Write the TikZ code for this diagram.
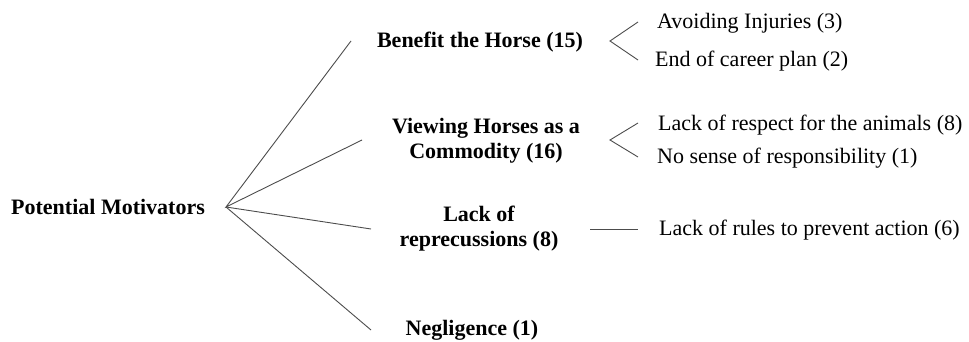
\documentclass[tikz,border=0pt]{standalone}
\usepackage{fontspec}
\setmainfont{Liberation Serif}
\begin{document}
\begin{tikzpicture}[x=1pt,y=-1pt,
  every node/.style={inner sep=0pt, font=\fontsize{22}{25}\selectfont},
  main/.style={font=\fontsize{22}{25}\selectfont\bfseries, align=center},
  leaf/.style={anchor=west},
  conn/.style={draw=black!70, line width=0.9pt}]
\useasboundingbox (0,0) rectangle (969,342);
\node[main, anchor=west] (root) at (11,207) {Potential Motivators};
\coordinate (o) at (226,207);
\node[main] (b) at (480,42) {Benefit the Horse (15)};
\node[main] (v) at (486,141) {Viewing Horses as a\\Commodity (16)};
\node[main] (l) at (479,229) {Lack of\\reprecussions (8)};
\node[main] (n) at (472,330) {Negligence (1)};
\coordinate (be) at (351,41);
\coordinate (ve) at (362,140);
\coordinate (le) at (371,229);
\coordinate (ne) at (371,330);
\draw[conn] (be) -- (o) -- (ve);
\draw[conn] (o) -- (le);
\draw[conn] (o) -- (ne);
\node[leaf] (b1) at (657,23) {Avoiding Injuries (3)};
\node[leaf] (b2) at (655,61) {End of career plan (2)};
\node[leaf] (v1) at (658,125) {Lack of respect for the animals (8)};
\node[leaf] (v2) at (657,158) {No sense of responsibility (1)};
\node[leaf] (l1) at (659,230) {Lack of rules to prevent action (6)};
\coordinate (ba) at (610,41);
\coordinate (bt) at (638,22);
\coordinate (bb) at (638,60);
\coordinate (va) at (610,140);
\coordinate (vt) at (638,123);
\coordinate (vb) at (638,157);
\coordinate (la) at (590,229);
\coordinate (lb) at (638,229);
\draw[conn] (bt) -- (ba) -- (bb);
\draw[conn] (vt) -- (va) -- (vb);
\draw[conn] (la) -- (lb);
\end{tikzpicture}
\end{document}
